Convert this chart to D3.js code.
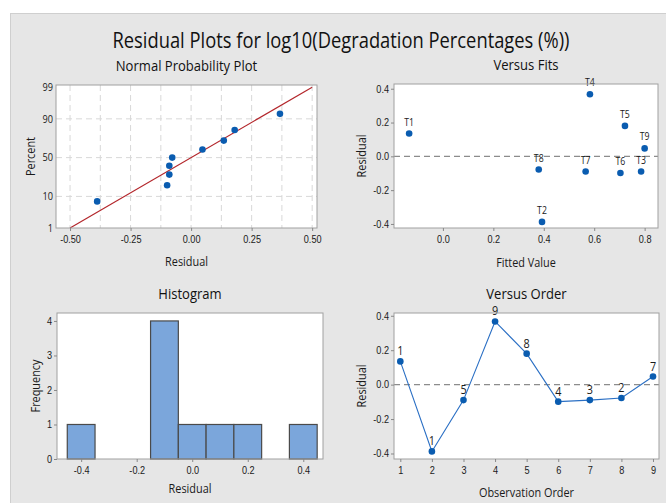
<!DOCTYPE html>
<html>
<head>
<meta charset="utf-8">
<script src="https://cdn.jsdelivr.net/npm/d3@7"></script>
<style>
  html, body { margin: 0; padding: 0; background: #fff; }
  svg { display: block; font-family: "Open Sans", sans-serif; }
  .tick text { fill: #1a1a1a; font-size: 10.5px; }
  .lbl { fill: #1a1a1a; font-size: 12.5px; }
  .sub { fill: #111; font-size: 15px; }
</style>
</head>
<body>
<svg id="chart" width="666" height="503"></svg>
<script>
// residuals per observation (T1..T9)
const obsLabels = ['T1', 'T2', 'T3', 'T4', 'T5', 'T6', 'T7', 'T8', 'T9'];
const residuals = [0.135, -0.388, -0.09, 0.367, 0.18, -0.099, -0.09, -0.078, 0.047];
const fitted = [-0.134, 0.393, 0.786, 0.583, 0.722, 0.704, 0.566, 0.380, 0.800];
const order = [1, 2, 3, 4, 5, 6, 7, 8, 9];
const orderLabels = ['1', '1', '5', '9', '8', '4', '3', '2', '7'];

// normal probability plot: sorted residuals vs percent
const probResid = [-0.388, -0.099, -0.09, -0.09, -0.078, 0.047, 0.135, 0.18, 0.367];
const probPct = [7.4, 18.1, 28.7, 39.4, 50, 60.6, 71.3, 81.9, 92.6];
const fitLineX = [-0.5, 0.5];
const fitLinePct = [1, 99];
const probTicksY = [1, 10, 50, 90, 99];
const probGridY = [10, 50, 90];
const probTicksX = [-0.5, -0.25, 0, 0.25, 0.5];
const probGridX = [-0.5, -0.375, -0.25, -0.125, 0, 0.125, 0.25, 0.375, 0.5];

// histogram
const histMids = [-0.4, -0.3, -0.2, -0.1, 0, 0.1, 0.2, 0.3, 0.4];
const histCounts = [1, 0, 0, 4, 1, 1, 1, 0, 1];
const histWidth = 0.1;
const histTicksX = [-0.4, -0.2, 0, 0.2, 0.4];
const histTicksY = [0, 1, 2, 3, 4];

const residTicks = [-0.4, -0.2, 0, 0.2, 0.4];
const fitTicks = [0, 0.2, 0.4, 0.6, 0.8];

const BLUE = '#0a5cb0';
const BORDER = '#a0a0a0';

const svg = d3.select('#chart');

svg.append('rect')
  .attr('x', 10.5).attr('y', 13.5)
  .attr('width', 660).attr('height', 495)
  .attr('fill', '#e6e6e6')
  .attr('stroke', '#cfcfcf');

// inverse normal cdf (Acklam) for the probability axis
function probit(p) {
  const a = [-39.6968302866538, 220.946098424521, -275.928510446969, 138.357751867269, -30.6647980661472, 2.50662827745924];
  const b = [-54.4760987982241, 161.585836858041, -155.698979859887, 66.8013118877197, -13.2806815528857];
  const c = [-0.00778489400243029, -0.322396458041136, -2.40075827716184, -2.54973253934373, 4.37466414146497, 2.93816398269878];
  const d = [0.00778469570904146, 0.32246712907004, 2.445134137143, 3.75440866190742];
  const pl = 0.02425;
  let q, r;
  if (p < pl) {
    q = Math.sqrt(-2 * Math.log(p));
    return (((((c[0] * q + c[1]) * q + c[2]) * q + c[3]) * q + c[4]) * q + c[5]) /
      ((((d[0] * q + d[1]) * q + d[2]) * q + d[3]) * q + 1);
  }
  if (p > 1 - pl) {
    q = Math.sqrt(-2 * Math.log(1 - p));
    return -(((((c[0] * q + c[1]) * q + c[2]) * q + c[3]) * q + c[4]) * q + c[5]) /
      ((((d[0] * q + d[1]) * q + d[2]) * q + d[3]) * q + 1);
  }
  q = p - 0.5; r = q * q;
  return (((((a[0] * r + a[1]) * r + a[2]) * r + a[3]) * r + a[4]) * r + a[5]) * q /
    (((((b[0] * r + b[1]) * r + b[2]) * r + b[3]) * r + b[4]) * r + 1);
}

// minitab-style labels use a plain hyphen for negatives
const hy = f => d => f(d).replace('\u2212', '-');
const fmt1 = hy(d3.format('.1f'));
const fmt2 = hy(d3.format('.2f'));
const fmtD = d3.format('d');

function panel(box) {
  const g = svg.append('g');
  g.append('rect')
    .attr('x', box.x0).attr('y', box.y0)
    .attr('width', box.x1 - box.x0).attr('height', box.y1 - box.y0)
    .attr('fill', '#fff');
  return g;
}

function frame(g, box) {
  g.append('rect')
    .attr('x', box.x0).attr('y', box.y0)
    .attr('width', box.x1 - box.x0).attr('height', box.y1 - box.y0)
    .attr('fill', 'none')
    .attr('stroke', BORDER);
}

function xAxis(g, box, x, xt, xfmt) {
  const ax = g.append('g')
    .attr('transform', `translate(0,${box.y1})`)
    .call(d3.axisBottom(x).tickValues(xt).tickFormat(xfmt).tickSizeOuter(0).tickSize(3).tickPadding(5));
  ax.select('.domain').remove();
  ax.selectAll('.tick line').attr('stroke', '#888');
}

function yAxis(g, box, y, yt, yfmt) {
  const ay = g.append('g')
    .attr('transform', `translate(${box.x0},0)`)
    .call(d3.axisLeft(y).tickValues(yt).tickFormat(yfmt).tickSizeOuter(0).tickSize(3).tickPadding(2));
  ay.select('.domain').remove();
  ay.selectAll('.tick line').attr('stroke', '#888');
}

function titles(g, box, sub, xl, yl, xlY, ylX) {
  const cx = (box.x0 + box.x1) / 2;
  g.append('text').attr('class', 'sub')
    .attr('x', cx).attr('y', box.y0 - 14)
    .attr('text-anchor', 'middle').text(sub);
  g.append('text').attr('class', 'lbl')
    .attr('x', cx).attr('y', xlY)
    .attr('text-anchor', 'middle').text(xl);
  g.append('text').attr('class', 'lbl')
    .attr('transform', `translate(${ylX},${(box.y0 + box.y1) / 2}) rotate(-90)`)
    .attr('text-anchor', 'middle').text(yl);
}

// ---- Normal Probability Plot ----
{
  const box = { x0: 56, y0: 85, x1: 317, y1: 228 };
  const x = d3.scaleLinear([-0.558, 0.52], [box.x0, box.x1]);
  const z = d3.scaleLinear([probit(0.01), 2.40], [box.y1, box.y0]);
  const y = p => z(probit(p / 100));
  const g = panel(box);

  g.selectAll('.gx').data(probGridX).join('line')
    .attr('x1', d => x(d)).attr('x2', d => x(d))
    .attr('y1', box.y0).attr('y2', box.y1)
    .attr('stroke', '#d8d8d8').attr('stroke-dasharray', '6,4');
  g.selectAll('.gy').data(probGridY).join('line')
    .attr('x1', box.x0).attr('x2', box.x1)
    .attr('y1', d => y(d)).attr('y2', d => y(d))
    .attr('stroke', '#d8d8d8').attr('stroke-dasharray', '6,4');

  g.append('path')
    .datum(fitLineX.map((v, i) => [v, fitLinePct[i]]))
    .attr('d', d3.line().x(d => x(d[0])).y(d => y(d[1])))
    .attr('stroke', '#b3262b').attr('stroke-width', 1.2).attr('fill', 'none');

  g.selectAll('.pt').data(probResid).join('circle')
    .attr('cx', d => x(d)).attr('cy', (d, i) => y(probPct[i]))
    .attr('r', 3.3).attr('fill', BLUE);

  frame(g, box);
  xAxis(g, box, x, probTicksX, fmt2);
  g.selectAll('.yt').data(probTicksY).join('text')
    .attr('x', box.x0 - 3).attr('y', d => y(d)).attr('dy', '0.35em')
    .attr('text-anchor', 'end').attr('font-size', 10.5).attr('fill', '#1a1a1a')
    .text(d => d);
  titles(g, box, 'Normal Probability Plot', 'Residual', 'Percent', 266, 35);
}

// ---- Versus Fits ----
{
  const box = { x0: 394, y0: 84, x1: 658, y1: 228 };
  const x = d3.scaleLinear([-0.194, 0.853], [box.x0, box.x1]);
  const y = d3.scaleLinear([-0.424, 0.428], [box.y1, box.y0]);
  const g = panel(box);

  g.append('line')
    .attr('x1', box.x0).attr('x2', box.x1)
    .attr('y1', y(0)).attr('y2', y(0))
    .attr('stroke', '#8c8c8c').attr('stroke-width', 1.2).attr('stroke-dasharray', '6,4');

  g.selectAll('.pt').data(residuals).join('circle')
    .attr('cx', (d, i) => x(fitted[i])).attr('cy', d => y(d))
    .attr('r', 3.3).attr('fill', BLUE);
  g.selectAll('.pl').data(residuals).join('text')
    .attr('x', (d, i) => x(fitted[i])).attr('y', d => y(d) - 8)
    .attr('text-anchor', 'middle').attr('font-size', 10).attr('fill', '#1a1a1a')
    .text((d, i) => obsLabels[i]);

  frame(g, box);
  xAxis(g, box, x, fitTicks, fmt1);
  yAxis(g, box, y, residTicks, fmt1);
  titles(g, box, 'Versus Fits', 'Fitted Value', 'Residual', 267, 366);
}

// ---- Histogram ----
{
  const box = { x0: 57, y0: 313, x1: 323, y1: 459 };
  const x = d3.scaleLinear([-0.487, 0.471], [box.x0, box.x1]);
  const y = d3.scaleLinear([0, 4.23], [box.y1, box.y0]);
  const g = panel(box);

  g.selectAll('.bar').data(histCounts).join('rect')
    .attr('x', (d, i) => x(histMids[i] - histWidth / 2))
    .attr('width', (d, i) => x(histMids[i] + histWidth / 2) - x(histMids[i] - histWidth / 2))
    .attr('y', d => y(d))
    .attr('height', d => y(0) - y(d))
    .attr('fill', '#7ba6db').attr('stroke', '#4a4a4a').attr('stroke-width', 1.2);

  frame(g, box);
  xAxis(g, box, x, histTicksX, fmt1);
  yAxis(g, box, y, histTicksY, fmtD);
  titles(g, box, 'Histogram', 'Residual', 'Frequency', 493, 40);
}

// ---- Versus Order ----
{
  const box = { x0: 394, y0: 313, x1: 659, y1: 459 };
  const x = d3.scaleLinear([0.8, 9.19], [box.x0, box.x1]);
  const y = d3.scaleLinear([-0.432, 0.416], [box.y1, box.y0]);
  const g = panel(box);

  g.append('line')
    .attr('x1', box.x0).attr('x2', box.x1)
    .attr('y1', y(0)).attr('y2', y(0))
    .attr('stroke', '#8c8c8c').attr('stroke-width', 1.2).attr('stroke-dasharray', '6,4');

  g.append('path')
    .datum(residuals)
    .attr('d', d3.line().x((d, i) => x(order[i])).y(d => y(d)))
    .attr('stroke', '#2a6fc4').attr('stroke-width', 1.1).attr('fill', 'none');

  g.selectAll('.pt').data(residuals).join('circle')
    .attr('cx', (d, i) => x(order[i])).attr('cy', d => y(d))
    .attr('r', 3.3).attr('fill', BLUE);
  g.selectAll('.pl').data(residuals).join('text')
    .attr('x', (d, i) => x(order[i])).attr('y', d => y(d) - 6)
    .attr('text-anchor', 'middle').attr('font-size', 12.5).attr('fill', '#1a1a1a')
    .text((d, i) => orderLabels[i]);

  frame(g, box);
  xAxis(g, box, x, order, fmtD);
  yAxis(g, box, y, residTicks, fmt1);
  titles(g, box, 'Versus Order', 'Observation Order', 'Residual', 497, 366);
}

// the original uses a narrow UI font: squeeze every label horizontally
svg.selectAll('text').each(function () {
  const w = this.getComputedTextLength();
  this.setAttribute('textLength', (w * 0.87).toFixed(1));
  this.setAttribute('lengthAdjust', 'spacingAndGlyphs');
});

svg.append('text')
  .attr('x', 341).attr('y', 48)
  .attr('text-anchor', 'middle')
  .attr('font-size', 21)
  .attr('fill', '#111')
  .attr('textLength', 457)
  .attr('lengthAdjust', 'spacingAndGlyphs')
  .text('Residual Plots for log10(Degradation Percentages (%))');
</script>
</body>
</html>
